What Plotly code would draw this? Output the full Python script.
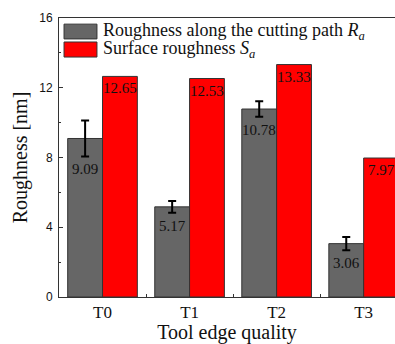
import plotly.graph_objects as go

categories = ["T0", "T1", "T2", "T3"]
ra_values = [9.09, 5.17, 10.78, 3.06]
ra_errors = [1.03, 0.34, 0.44, 0.38]
sa_values = [12.65, 12.53, 13.33, 7.97]

ra_name = "Roughness along the cutting path <i>R<sub>a</sub></i>"
sa_name = "Surface roughness <i>S<sub>a</sub></i>"
ra_color = "#666666"
sa_color = "#ff0000"

serif = "Liberation Serif, Times New Roman, serif"

fig = go.Figure()
fig.add_trace(go.Bar(
    x=categories, y=ra_values, name=ra_name, showlegend=False,
    marker=dict(color=ra_color, line=dict(color="#333333", width=1)),
    error_y=dict(type="data", array=ra_errors, color="black", thickness=2, width=4),
))
fig.add_trace(go.Bar(
    x=categories, y=sa_values, name=sa_name, showlegend=False,
    marker=dict(color=sa_color, line=dict(color="#333333", width=1)),
))

half = 17.5
for c, v, e in zip(categories, ra_values, ra_errors):
    fig.add_annotation(x=c, y=v - e, text=f"{v:.2f}", showarrow=False,
                       xshift=-half, yanchor="top", yshift=-3,
                       font=dict(family=serif, size=15, color="#111"))
for c, v in zip(categories, sa_values):
    fig.add_annotation(x=c, y=v, text=f"{v:.2f}", showarrow=False,
                       xshift=half, yanchor="top", yshift=-2,
                       font=dict(family=serif, size=15, color="#111"))

# custom legend (large rectangular swatches as in the reference)
legend_items = [(ra_name, ra_color, 0.925, 0.978), (sa_name, sa_color, 0.860, 0.914)]
for name, col, y0, y1 in legend_items:
    fig.add_shape(type="rect", xref="paper", yref="paper", x0=0.015, x1=0.113,
                  y0=y0, y1=y1, fillcolor=col, line=dict(color="#333333", width=1))
    fig.add_annotation(xref="paper", yref="paper", x=0.125, y=(y0 + y1) / 2,
                       xanchor="left", yanchor="middle", text=name, showarrow=False,
                       font=dict(family=serif, size=18, color="#111"))

fig.update_layout(
    width=395, height=344,
    margin=dict(l=59, r=0, t=18, b=47),
    paper_bgcolor="white", plot_bgcolor="white",
    barmode="group", bargap=0.2, bargroupgap=0,
    showlegend=False,
    xaxis=dict(range=[-0.5, 3.36], showline=True, linecolor="#333", linewidth=1,
               mirror=True, ticks="inside", tickson="boundaries", ticklen=3,
               tickcolor="#333",
               tickfont=dict(family=serif, size=17, color="#111"),
               title=dict(text="Tool edge quality", font=dict(family=serif, size=20, color="#111"),
                          standoff=2)),
    yaxis=dict(range=[0, 16], dtick=4, showline=True, linecolor="#333", linewidth=1,
               showgrid=False, zeroline=False, ticks="inside", ticklen=4, tickcolor="#333",
               minor=dict(dtick=2, ticks="inside", ticklen=2, tickcolor="#333", showgrid=False),
               ticklabelstandoff=3,
               tickfont=dict(family="Liberation Sans, Arial, sans-serif", size=12, color="#111"),
               title=dict(text="Roughness [nm]", font=dict(family=serif, size=20, color="#111"),
                          standoff=6)),
)

fig.write_html("out.html", config={"displayModeBar": False},
               post_script="document.body.style.margin='0';")
